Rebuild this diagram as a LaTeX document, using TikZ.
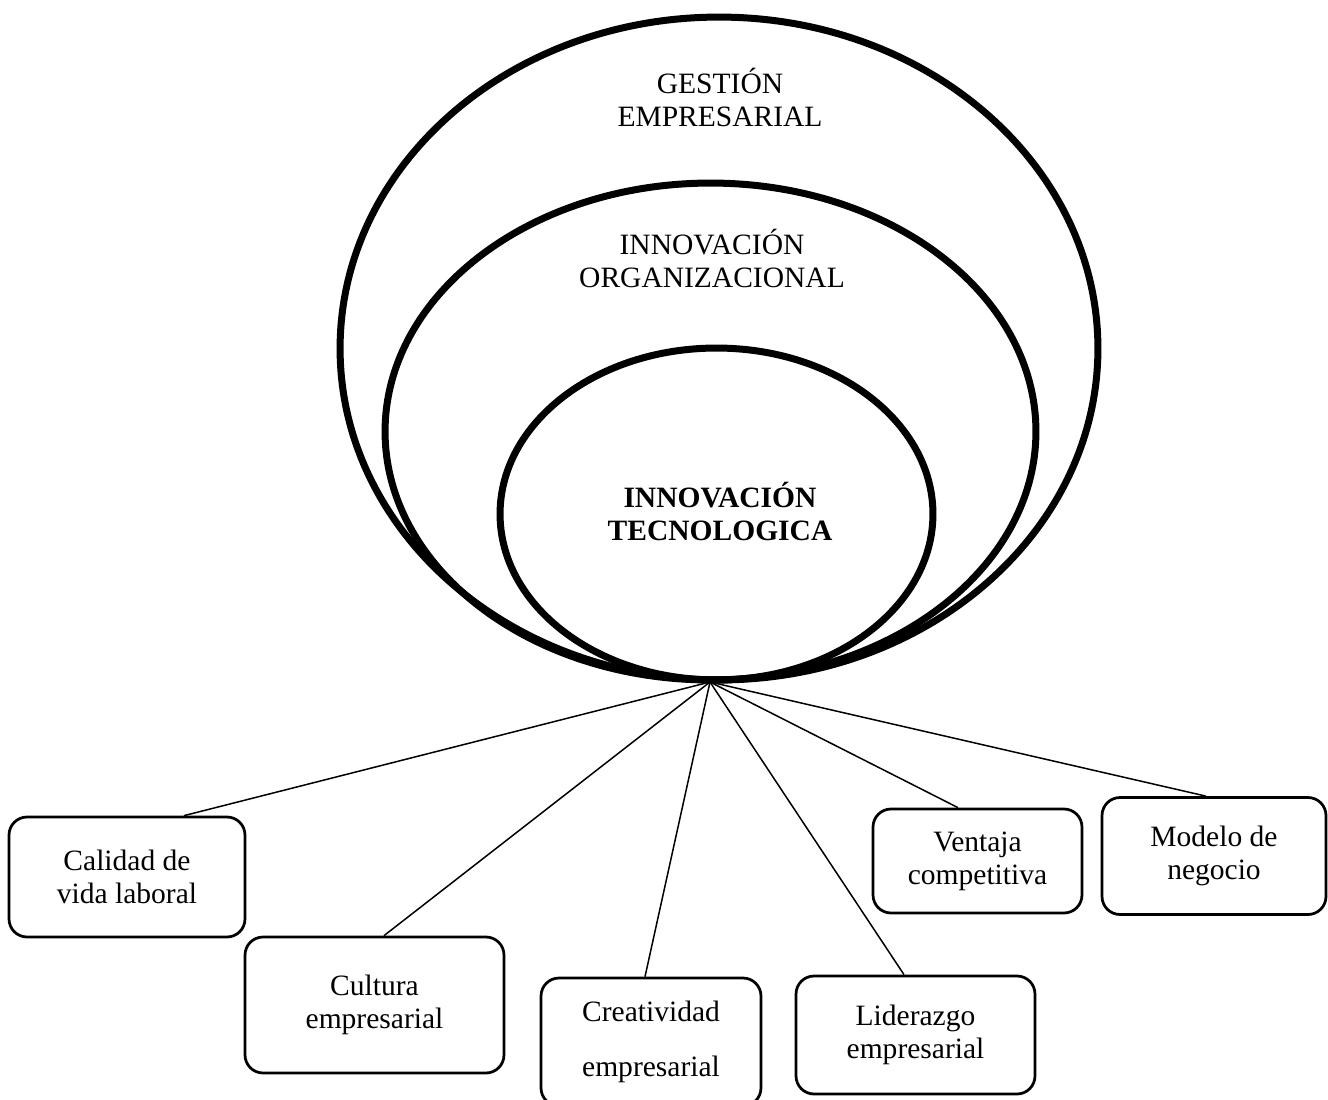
\documentclass[tikz,border=0pt]{standalone}
\usepackage{fontspec}
\setmainfont{Liberation Serif}
\usetikzlibrary{shapes.geometric}

\begin{document}
\begin{tikzpicture}[x=0.02cm,y=-0.02cm]
%% Styles
\tikzset{ring/.style={draw,ellipse,line width=0.14cm,inner sep=0pt},
ringText/.style={align=center,font=\fontsize{16.8}{18.8}\selectfont},
topic/.style={draw,rounded corners=0.36cm,line width=0.055cm,align=center,inner sep=0pt,font=\fontsize{16.8}{18.8}\selectfont},
spoke/.style={draw,line width=0.03cm}}
\useasboundingbox (0,0) rectangle (1328,1099);

%% Rings
\node[ring,minimum width=15.16cm,minimum height=13.26cm] (gestion) at (719,348.5) {};
\node[ring,minimum width=13.02cm,minimum height=9.94cm] (organizacional) at (710.5,431.5) {};
\node[ring,minimum width=8.66cm,minimum height=6.64cm] (tecnologica) at (716.5,514) {};
\node[ringText] (gestionTxt) at (720,97) {GESTIÓN\\EMPRESARIAL};
\node[ringText] (organizacionalTxt) at (712,258) {INNOVACIÓN\\ORGANIZACIONAL};
\node[ringText,font=\fontsize{16.8}{18.8}\selectfont\bfseries] (tecnologicaTxt) at (720,511) {INNOVACIÓN\\TECNOLOGICA};

%% Topics
\foreach \name/\x/\y/\w/\h/\txt in {calidad/127/877/4.72/2.4/{Calidad de\\vida laboral},
cultura/374.5/1005/5.18/2.72/{Cultura\\empresarial},
creatividad/651/1042/4.4/2.56/{Creatividad\\[12.4pt]empresarial},
liderazgo/915.5/1035/4.78/2.36/{Liderazgo\\empresarial},
ventaja/977.5/861/4.18/2.08/{Ventaja\\competitiva},
modelo/1214/856/4.48/2.34/{Modelo de\\negocio}}{
\node[topic,minimum width=\w cm,minimum height=\h cm] (\name) at (\x,\y) {\txt};
}

% Spokes
\coordinate (hub) at (710,682);
\foreach \name/\dx in {calidad/1.14,cultura/0.19,creatividad/-0.12,liderazgo/-0.23,ventaja/-0.39,modelo/-0.16}{
\path[spoke] (hub) -- ([xshift=\dx cm]\name.north);
}

\end{tikzpicture}
\end{document}
